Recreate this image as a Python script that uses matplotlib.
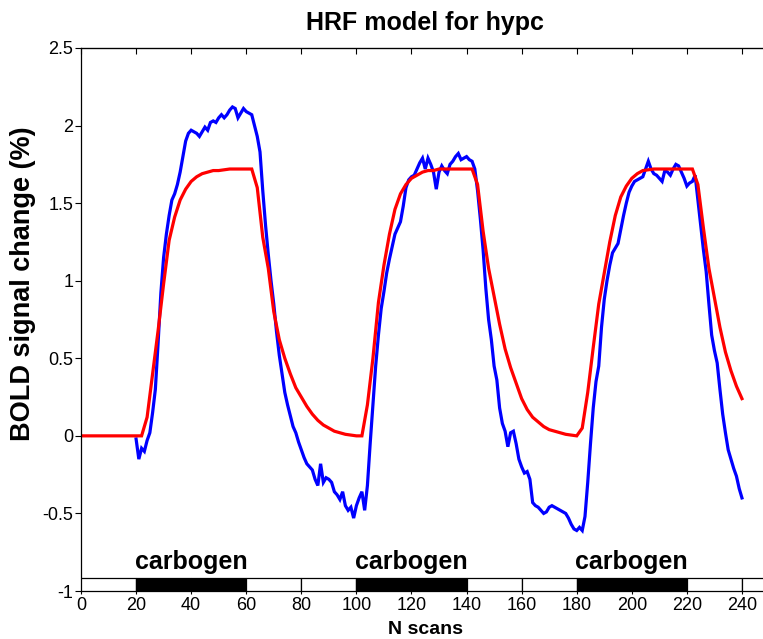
import numpy as np
import matplotlib
matplotlib.use('Agg')
import matplotlib.pyplot as plt
from matplotlib.patches import Rectangle

plt.rcParams['font.family'] = ['Liberation Sans', 'DejaVu Sans']

# measured BOLD response, one value per scan (scans 20..240)
bold_start = 20
bold_signal = [
    -0.02, -0.15, -0.08, -0.10, -0.03, 0.02, 0.15, 0.30, 0.60, 0.92,    # 20-29
    1.15, 1.30, 1.42, 1.52, 1.56, 1.62, 1.70, 1.80, 1.90, 1.95,         # 30-39
    1.97, 1.96, 1.95, 1.93, 1.96, 1.99, 1.97, 2.02, 2.03, 2.02,         # 40-49
    2.05, 2.07, 2.05, 2.07, 2.10, 2.12, 2.11, 2.05, 2.08, 2.11,         # 50-59
    2.09, 2.08, 2.07, 2.00, 1.93, 1.83, 1.58, 1.36, 1.17, 1.00,         # 60-69
    0.85, 0.67, 0.52, 0.40, 0.28, 0.20, 0.13, 0.06, 0.02, -0.04,        # 70-79
    -0.09, -0.14, -0.18, -0.20, -0.22, -0.28, -0.32, -0.18, -0.30, -0.27,  # 80-89
    -0.28, -0.30, -0.36, -0.38, -0.41, -0.36, -0.45, -0.48, -0.46, -0.53,  # 90-99
    -0.45, -0.40, -0.36, -0.48, -0.32, -0.05, 0.20, 0.45, 0.65, 0.82,   # 100-109
    0.93, 1.05, 1.14, 1.22, 1.30, 1.34, 1.38, 1.48, 1.60, 1.65,         # 110-119
    1.67, 1.68, 1.72, 1.76, 1.79, 1.72, 1.79, 1.75, 1.70, 1.59,         # 120-129
    1.70, 1.74, 1.71, 1.69, 1.75, 1.77, 1.80, 1.82, 1.78, 1.79,         # 130-139
    1.80, 1.78, 1.77, 1.72, 1.58, 1.40, 1.20, 0.95, 0.75, 0.62,         # 140-149
    0.45, 0.36, 0.18, 0.08, 0.03, -0.07, 0.02, 0.03, -0.05, -0.15,      # 150-159
    -0.20, -0.24, -0.23, -0.28, -0.43, -0.45, -0.46, -0.48, -0.50, -0.49,  # 160-169
    -0.46, -0.45, -0.46, -0.47, -0.48, -0.49, -0.50, -0.53, -0.57, -0.60,  # 170-179
    -0.61, -0.59, -0.61, -0.52, -0.30, -0.05, 0.18, 0.35, 0.45, 0.70,   # 180-189
    0.88, 1.00, 1.10, 1.18, 1.21, 1.24, 1.33, 1.42, 1.50, 1.57,         # 190-199
    1.61, 1.64, 1.65, 1.66, 1.67, 1.72, 1.77, 1.72, 1.69, 1.68,         # 200-209
    1.66, 1.64, 1.71, 1.70, 1.68, 1.72, 1.75, 1.74, 1.70, 1.66,         # 210-219
    1.61, 1.63, 1.64, 1.68, 1.52, 1.36, 1.20, 1.06, 0.85, 0.65,         # 220-229
    0.55, 0.47, 0.30, 0.14, 0.02, -0.09, -0.15, -0.21, -0.26, -0.34,    # 230-239
    -0.40,                                                              # 240
]

# HRF model fit, every second scan (scans 0..240)
model_step = 2
hrf_model = [
    0, 0, 0, 0, 0, 0, 0, 0, 0, 0, 0,                                    # 0-20
    0.0, 0.12, 0.40, 0.68, 0.98, 1.26, 1.41, 1.52, 1.59, 1.64,          # 22-40
    1.67, 1.69, 1.70, 1.71, 1.71, 1.715, 1.72, 1.72, 1.72, 1.72,        # 42-60
    1.72, 1.60, 1.28, 1.08, 0.80, 0.62, 0.50, 0.40, 0.31, 0.25,         # 62-80
    0.19, 0.14, 0.10, 0.07, 0.05, 0.03, 0.02, 0.01, 0.005, 0.0,         # 82-100
    0.0, 0.20, 0.50, 0.86, 1.10, 1.30, 1.46, 1.56, 1.62, 1.66,          # 102-120
    1.68, 1.70, 1.71, 1.71, 1.72, 1.72, 1.72, 1.72, 1.72, 1.72,         # 122-140
    1.72, 1.62, 1.32, 1.08, 0.90, 0.72, 0.56, 0.44, 0.34, 0.24,         # 142-160
    0.17, 0.12, 0.09, 0.06, 0.04, 0.03, 0.02, 0.01, 0.005, 0.0,         # 162-180
    0.05, 0.28, 0.57, 0.85, 1.05, 1.25, 1.42, 1.54, 1.61, 1.66,         # 182-200
    1.69, 1.71, 1.715, 1.72, 1.72, 1.72, 1.72, 1.72, 1.72, 1.72,        # 202-220
    1.72, 1.62, 1.34, 1.08, 0.89, 0.70, 0.54, 0.42, 0.32, 0.24,         # 222-240
]

# stimulus paradigm: 20-scan blocks, True where carbogen is delivered
block_len = 20
block_on = [False, True, True, False, False, True, True, False, False, True, True, False, False]
block_labels = ['carbogen', 'carbogen', 'carbogen']
label_centres = [40, 120, 200]

y_ticks = [-1, -0.5, 0, 0.5, 1, 1.5, 2, 2.5]
y_ticklabels = ['-1', '-0.5', '0', '0.5', '1', '1.5', '2', '2.5']
x_ticks = list(range(0, 241, 20))

fig = plt.figure(figsize=(7.63, 6.39), dpi=100)
ax = fig.add_axes([81 / 763, 48 / 639, 688.5 / 763, 543 / 639])

scans = np.arange(bold_start, bold_start + len(bold_signal))
model_scans = np.arange(0, len(hrf_model) * model_step, model_step)
ax.plot(scans, bold_signal, color='#0000ff', lw=2.3, solid_joinstyle='miter')
ax.plot(model_scans, hrf_model, color='#ff0000', lw=2.3, solid_joinstyle='miter')

# paradigm bar along the bottom of the axes
for i, on in enumerate(block_on):
    ax.add_patch(Rectangle((i * block_len, -1.0), block_len, 0.083,
                           facecolor='black' if on else 'white',
                           edgecolor='black', lw=0.9, zorder=3, clip_on=True))
for x, lab in zip(label_centres, block_labels):
    ax.text(x, -0.86, lab, ha='center', va='baseline', fontsize=18,
            fontweight='bold')

ax.set_xlim(0, 250)
ax.set_ylim(-1, 2.5)
ax.set_xticks(x_ticks)
ax.set_yticks(y_ticks)
ax.set_yticklabels(y_ticklabels)
ax.tick_params(axis='both', direction='out', labelsize=13, width=0.8)
ax.tick_params(axis='y', length=4, pad=1.5)
ax.tick_params(axis='x', length=2.5, pad=2)
for side in ax.spines.values():
    side.set_linewidth(0.9)

# box ticks on top and right point inwards
top = ax.secondary_xaxis('top')
top.set_xticks(x_ticks)
top.tick_params(direction='in', length=4.5, width=0.8, labeltop=False)
right = ax.secondary_yaxis('right')
right.set_yticks(y_ticks)
right.tick_params(direction='in', length=4.5, width=0.8, labelright=False)

ax.set_title('HRF model for hypc', fontsize=18, fontweight='bold', pad=13)
ax.set_xlabel('N scans', fontsize=14, fontweight='bold', labelpad=4.5)
fig.text(23 / 763, 1 - 284 / 639, 'BOLD signal change (%)', rotation=90,
         ha='center', va='center', fontsize=19.5, fontweight='bold')

fig.savefig('out.png', dpi=100)
